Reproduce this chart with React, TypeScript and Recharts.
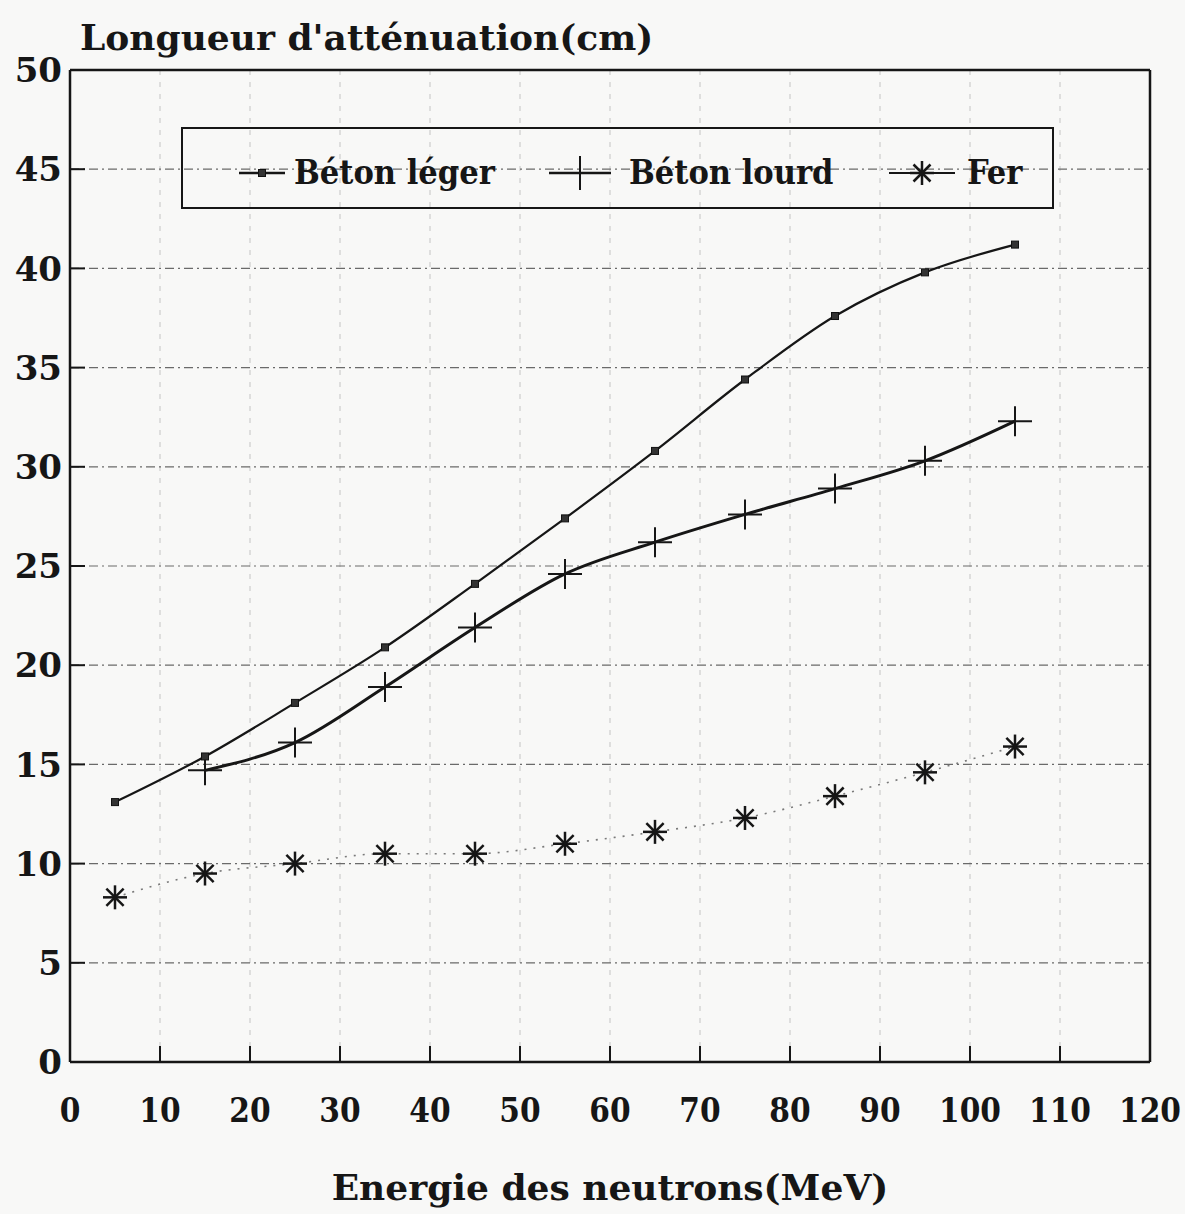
import React from "react";
import {
  LineChart,
  Line,
  XAxis,
  YAxis,
  CartesianGrid,
  ReferenceLine,
  Legend,
} from "recharts";

// energie des neutrons (MeV)
const energies = [5, 15, 25, 35, 45, 55, 65, 75, 85, 95, 105];
// longueur d'atténuation (cm)
const betonLeger = [13.1, 15.4, 18.1, 20.9, 24.1, 27.4, 30.8, 34.4, 37.6, 39.8, 41.2];
const betonLourd = [null, 14.7, 16.1, 18.9, 21.9, 24.6, 26.2, 27.6, 28.9, 30.3, 32.3];
const fer = [8.3, 9.5, 10.0, 10.5, 10.5, 11.0, 11.6, 12.3, 13.4, 14.6, 15.9];

const xTicks = [0, 10, 20, 30, 40, 50, 60, 70, 80, 90, 100, 110, 120];
const yTicks = [0, 5, 10, 15, 20, 25, 30, 35, 40, 45, 50];

const data = energies.map((e, i) => ({
  e,
  leger: betonLeger[i],
  lourd: betonLourd[i],
  fer: fer[i],
}));

const SERIF = "'DejaVu Serif', serif";
const SERIF_COND = "'DejaVu Serif Condensed', 'DejaVu Serif', serif";
const INK = "#161616";

const Y_MARGIN = 8;
const X_MARGIN = 36;

const YTick = (props: any) => {
  const { x, y, payload } = props;
  return (
    <g>
      <line x1={x + Y_MARGIN} x2={x + Y_MARGIN + 15} y1={y} y2={y} stroke={INK} strokeWidth={2} />
      <text x={x} y={y} dy="0.36em" textAnchor="end" fontFamily={SERIF} fontWeight="bold" fontSize={34} fill={INK}>
        {payload.value}
      </text>
    </g>
  );
};

const XTick = (props: any) => {
  const { x, y, payload } = props;
  return (
    <g>
      <line x1={x} x2={x} y1={y - X_MARGIN} y2={y - X_MARGIN - 16} stroke={INK} strokeWidth={2} />
      <text x={x} y={y} dy="0.72em" textAnchor="middle" fontFamily={SERIF_COND} fontStretch="condensed" fontWeight="bold" fontSize={33} fill={INK}>
        {payload.value}
      </text>
    </g>
  );
};

const SquareDot = (props: any) => {
  const { cx, cy } = props;
  if (cx == null || cy == null) return null;
  return <rect x={cx - 3.5} y={cy - 3.5} width={7} height={7} fill="#333" stroke="#111" strokeWidth={1} />;
};

const PlusDot = (props: any) => {
  const { cx, cy } = props;
  if (cx == null || cy == null) return null;
  return (
    <g stroke={INK} strokeWidth={2}>
      <line x1={cx - 17} x2={cx + 17} y1={cy} y2={cy} />
      <line x1={cx} x2={cx} y1={cy - 15} y2={cy + 15} />
    </g>
  );
};

const StarDot = (props: any) => {
  const { cx, cy } = props;
  if (cx == null || cy == null) return null;
  const r = 12;
  const d = r * 0.72;
  return (
    <g stroke={INK} strokeWidth={2.5}>
      <line x1={cx - r} x2={cx + r} y1={cy} y2={cy} />
      <line x1={cx} x2={cx} y1={cy - r} y2={cy + r} />
      <line x1={cx - d} x2={cx + d} y1={cy - d} y2={cy + d} />
      <line x1={cx - d} x2={cx + d} y1={cy + d} y2={cy - d} />
    </g>
  );
};

const legendText: React.CSSProperties = {
  position: "absolute",
  top: 23,
  fontFamily: SERIF_COND,
  fontStretch: "condensed",
  fontWeight: "bold",
  fontSize: 34,
  lineHeight: "40px",
  color: INK,
  whiteSpace: "nowrap",
};

const LegendBox = () => (
  <div
    style={{
      position: "relative",
      width: 873,
      height: 82,
      border: `2.5px solid ${INK}`,
      boxSizing: "border-box",
      background: "transparent",
    }}
  >
    <svg style={{ position: "absolute", left: 54, top: 24 }} width={52} height={40}>
      <line x1={2} x2={48} y1={20} y2={20} stroke={INK} strokeWidth={2.5} />
      <rect x={21.5} y={16.5} width={7} height={7} fill="#333" stroke="#111" />
    </svg>
    <span style={{ ...legendText, left: 111 }}>Béton léger</span>
    <svg style={{ position: "absolute", left: 364, top: 24 }} width={66} height={40}>
      <line x1={2} x2={64} y1={20} y2={20} stroke={INK} strokeWidth={2.5} />
      <line x1={33} x2={33} y1={3} y2={37} stroke={INK} strokeWidth={2} />
    </svg>
    <span style={{ ...legendText, left: 446 }}>Béton lourd</span>
    <svg style={{ position: "absolute", left: 704, top: 24 }} width={70} height={40}>
      <line x1={2} x2={68} y1={20} y2={20} stroke={INK} strokeWidth={2} />
      <g stroke={INK} strokeWidth={2.5}>
        <line x1={23} x2={47} y1={20} y2={20} />
        <line x1={35} x2={35} y1={8} y2={32} />
        <line x1={26.5} x2={43.5} y1={11.5} y2={28.5} />
        <line x1={26.5} x2={43.5} y1={28.5} y2={11.5} />
      </g>
    </svg>
    <span style={{ ...legendText, left: 784 }}>Fer</span>
  </div>
);

const TitleLabel = () => (
  <text x={80} y={50} fontFamily={SERIF} fontWeight="bold" fontSize={36} fill={INK}>
    Longueur d'atténuation(cm)
  </text>
);

const XTitle = (props: any) => {
  const vb = props.viewBox || {};
  return (
    <text x={vb.x + vb.width / 2} y={1200} textAnchor="middle" fontFamily={SERIF} fontWeight="bold" fontSize={36} fill={INK}>
      Energie des neutrons(MeV)
    </text>
  );
};

export default function App() {
  return (
    <div style={{ width: 1185, height: 1214, background: "#f8f8f7", position: "relative" }}>
      <style>{"body{margin:0}"}</style>
      <LineChart
        width={1185}
        height={1214}
        data={data}
        margin={{ top: 70, right: 35, bottom: 0, left: 0 }}
      >
        <CartesianGrid horizontal={false} stroke="#c4c4c4" strokeDasharray="5 7" strokeWidth={1} />
        <CartesianGrid vertical={false} stroke="#6a6a6a" strokeDasharray="9 4 2 4" strokeWidth={1.2} />
        <XAxis
          dataKey="e"
          type="number"
          domain={[0, 120]}
          ticks={xTicks}
          interval={0}
          height={152}
          tickSize={0}
          tickMargin={X_MARGIN}
          tickLine={false}
          axisLine={{ stroke: INK, strokeWidth: 2.5 }}
          tick={<XTick />}
          label={<XTitle />}
        />
        <YAxis
          type="number"
          domain={[0, 50]}
          ticks={yTicks}
          interval={0}
          width={70}
          tickSize={0}
          tickMargin={Y_MARGIN}
          tickLine={false}
          axisLine={{ stroke: INK, strokeWidth: 2.5 }}
          tick={<YTick />}
          label={<TitleLabel />}
        />
        <ReferenceLine y={50} stroke={INK} strokeWidth={2.5} />
        <ReferenceLine x={120} stroke={INK} strokeWidth={2.5} />
        <Legend
          layout="horizontal"
          verticalAlign="middle"
          align="center"
          wrapperStyle={{ top: 127, left: 181, width: 873, height: 82 }}
          content={() => <LegendBox />}
        />
        <Line
          type="monotone"
          dataKey="fer"
          name="Fer"
          stroke="#7a7a7a"
          strokeWidth={1.6}
          strokeDasharray="2 7"
          dot={<StarDot />}
          activeDot={false}
          isAnimationActive={false}
        />
        <Line
          type="monotone"
          dataKey="lourd"
          name="Béton lourd"
          stroke={INK}
          strokeWidth={3}
          dot={<PlusDot />}
          activeDot={false}
          connectNulls
          isAnimationActive={false}
        />
        <Line
          type="monotone"
          dataKey="leger"
          name="Béton léger"
          stroke={INK}
          strokeWidth={2.2}
          dot={<SquareDot />}
          activeDot={false}
          isAnimationActive={false}
        />
      </LineChart>
    </div>
  );
}
